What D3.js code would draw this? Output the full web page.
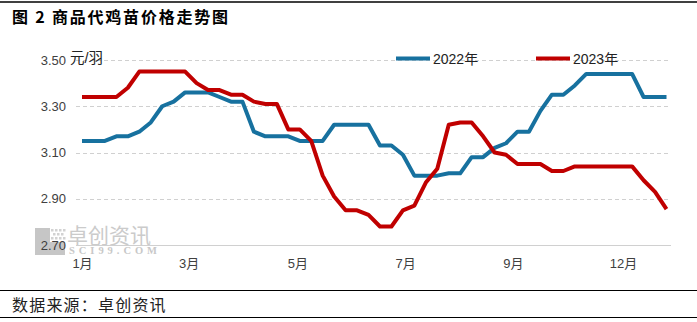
<!DOCTYPE html>
<html>
<head>
<meta charset="utf-8">
<script src="https://cdn.jsdelivr.net/npm/d3@7/dist/d3.min.js"></script>
<style>
  html, body { margin: 0; padding: 0; background: #fff; }
  svg { display: block; }
</style>
</head>
<body>
<svg id="chart" width="697" height="322"></svg>
<script>
// ---- data ----
const weeks = d3.range(52); // weekly categories
const series2022 = [3.15,3.15,3.15,3.17,3.17,3.19,3.23,3.30,3.32,3.36,3.36,3.36,3.34,3.32,3.32,3.19,3.17,3.17,3.17,3.15,3.15,3.15,3.22,3.22,3.22,3.22,3.13,3.13,3.09,3.00,3.00,3.00,3.01,3.01,3.08,3.08,3.12,3.14,3.19,3.19,3.28,3.35,3.35,3.39,3.44,3.44,3.44,3.44,3.44,3.34,3.34,3.34];
const series2023 = [3.34,3.34,3.34,3.34,3.38,3.45,3.45,3.45,3.45,3.45,3.40,3.37,3.37,3.35,3.35,3.32,3.31,3.31,3.20,3.20,3.15,3.00,2.91,2.85,2.85,2.83,2.78,2.78,2.85,2.87,2.97,3.03,3.22,3.23,3.23,3.17,3.10,3.09,3.05,3.05,3.05,3.02,3.02,3.04,3.04,3.04,3.04,3.04,3.04,2.98,2.93,2.855];
const xTickLabels = ["1月","3月","5月","7月","9月","12月"];
const xTickPos = [0, 9.3, 18.8, 28.2, 37.6, 47.2];
const yTicks = [2.70, 2.90, 3.10, 3.30, 3.50];
const seriesNames = ["2022年","2023年"];
const colors = ["#17719F", "#C00000"];

const svg = d3.select("#chart");
const W = 697;
const plotL = 76, plotR = 671;

const x = d3.scaleLinear().domain([0, 51]).range([82, 666.5]);
const y = d3.scaleLinear().domain([2.70, 3.50]).range([245, 60]);

const cjk = "'Liberation Sans', Arial, 'Noto Sans CJK SC', sans-serif";

// frame lines
svg.append("line").attr("x1", 0).attr("x2", W).attr("y1", 2).attr("y2", 2)
  .attr("stroke", "#000").attr("stroke-width", 1.5);
svg.append("line").attr("x1", 0).attr("x2", W).attr("y1", 290.5).attr("y2", 290.5)
  .attr("stroke", "#000").attr("stroke-width", 1.2);
svg.append("line").attr("x1", 0).attr("x2", W).attr("y1", 317.5).attr("y2", 317.5)
  .attr("stroke", "#000").attr("stroke-width", 1.2);

// title
svg.append("text").attr("x", 12).attr("y", 23)
  .attr("font-family", "'Noto Sans CJK SC', sans-serif")
  .attr("font-size", 16).attr("font-weight", "bold")
  .attr("letter-spacing", "1.8px").attr("fill", "#000")
  .text("图 2 商品代鸡苗价格走势图");

// footer
svg.append("text").attr("x", 12).attr("y", 311)
  .attr("font-family", "'Noto Sans CJK SC', sans-serif")
  .attr("font-size", 16).attr("letter-spacing", "1.2px").attr("fill", "#222")
  .text("数据来源：卓创资讯");

// watermark
const wm = svg.append("g");
wm.append("rect").attr("x", 35).attr("y", 228).attr("width", 15).attr("height", 27).attr("fill", "#c6c6c6");
wm.append("rect").attr("x", 50).attr("y", 242).attr("width", 15).attr("height", 13).attr("fill", "#c6c6c6");
[[51,229],[55,229],[59,229],[63,229],[53,233],[57,233],[61,233],[51,237],[55,237],[59,237],[63,237]].forEach(p => {
  wm.append("rect").attr("x", p[0]).attr("y", p[1]).attr("width", 2.5).attr("height", 2.5).attr("fill", "#d2d2d2");
});
wm.append("text").attr("x", 67).attr("y", 243)
  .attr("font-family", "'Noto Sans CJK SC', sans-serif").attr("font-size", 21)
  .attr("fill", "#cbcbcb").text("卓创资讯");
wm.append("text").attr("x", 69).attr("y", 254)
  .attr("font-family", "'Liberation Serif', serif").attr("font-size", 10.5).attr("font-weight", "bold")
  .attr("fill", "#c8c8c8").attr("textLength", 88).attr("lengthAdjust", "spacing").text("SCI99.COM");

// gridlines
svg.append("g").selectAll("line").data(yTicks.filter(d => d > 2.70)).join("line")
  .attr("x1", plotL).attr("x2", plotR)
  .attr("y1", d => Math.round(y(d)) + 0.5).attr("y2", d => Math.round(y(d)) + 0.5)
  .attr("stroke", "#d0d0d0").attr("stroke-width", 1).attr("stroke-dasharray", "4,3");
// baseline
svg.append("line").attr("x1", plotL).attr("x2", plotR)
  .attr("y1", Math.round(y(2.70)) + 0.5).attr("y2", Math.round(y(2.70)) + 0.5)
  .attr("stroke", "#d0d0d0").attr("stroke-width", 1);

// y axis
const yAxis = svg.append("g").attr("transform", `translate(${plotL},0)`)
  .call(d3.axisLeft(y).tickValues(yTicks).tickSize(0).tickPadding(10).tickFormat(d3.format(".2f")));
yAxis.select(".domain").remove();
yAxis.selectAll("text").attr("font-family", cjk).attr("font-size", 13).attr("fill", "#404040");

// x axis
const xAxis = svg.append("g").attr("transform", `translate(0,${y(2.70)})`)
  .call(d3.axisBottom(x).tickValues(xTickPos).tickSize(0).tickPadding(14)
    .tickFormat((d, i) => xTickLabels[i]));
xAxis.select(".domain").remove();
xAxis.selectAll("text").attr("font-family", cjk).attr("font-size", 13).attr("fill", "#404040");

// unit label
svg.append("text").attr("x", 70).attr("y", 63)
  .attr("font-family", cjk).attr("font-size", 14.5).attr("fill", "#222").text("元/羽");

// lines
const line = d3.line().x((d, i) => x(weeks[i])).y(d => y(d));
[series2022, series2023].forEach((s, i) => {
  svg.append("path").datum(s).attr("d", line)
    .attr("fill", "none").attr("stroke", colors[i]).attr("stroke-width", 4)
    .attr("stroke-linejoin", "round").attr("stroke-linecap", "butt");
});

// legend
const legendX = [396, 536];
seriesNames.forEach((n, i) => {
  svg.append("line").attr("x1", legendX[i]).attr("x2", legendX[i] + 34)
    .attr("y1", 58.5).attr("y2", 58.5).attr("stroke", colors[i]).attr("stroke-width", 4);
  svg.append("text").attr("x", legendX[i] + 37).attr("y", 63.5)
    .attr("font-family", cjk).attr("font-size", 14).attr("fill", "#222").text(n);
});
</script>
</body>
</html>
